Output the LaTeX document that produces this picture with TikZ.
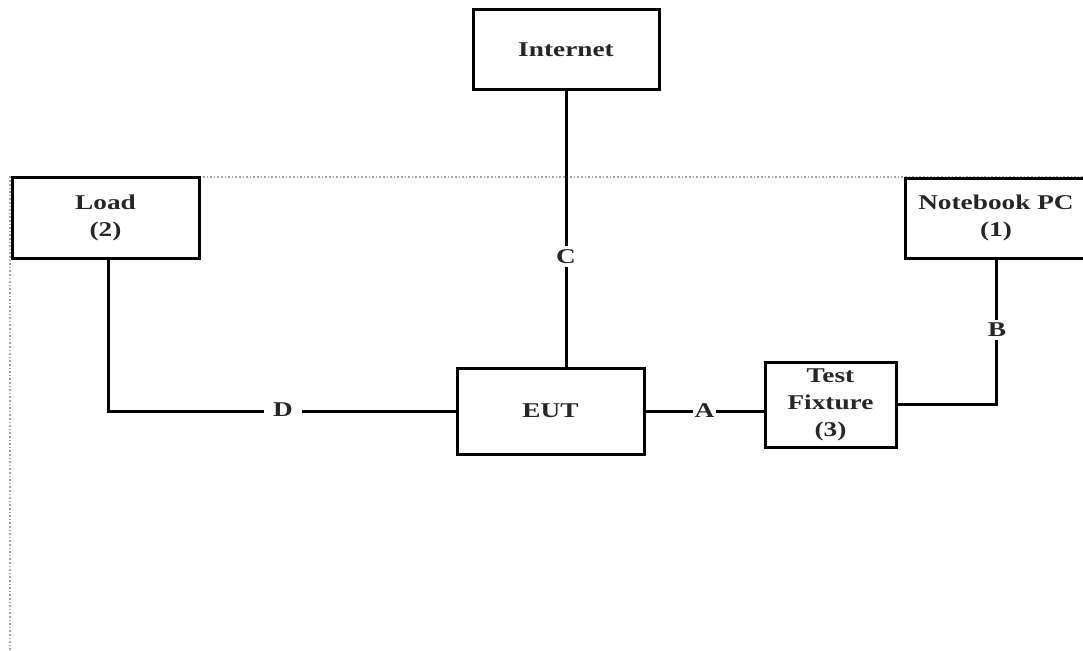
\documentclass[tikz,border=0pt]{standalone}
\usepackage{fontspec}
\setmainfont{Liberation Serif}
\newfontfamily\boxfont[FakeStretch=1.3]{Liberation Serif}
\begin{document}
\begin{tikzpicture}[x=1pt,y=-1pt,
  box/.style={draw=black,line width=3pt,fill=white,align=center,inner sep=0pt,
    font=\boxfont\bfseries\fontsize{21}{27}\selectfont,text=black!85},
  wire/.style={line width=3pt,black},
  lbl/.style={fill=white,inner sep=3pt,font=\boxfont\bfseries\fontsize{21}{27}\selectfont,text=black!85}]
\useasboundingbox (0,0) rectangle (1083,650);
\fill[white] (0,0) rectangle (1083,650);
% dotted frame
\draw[gray!70,line width=1.6pt,dotted] (10,650) -- (10,177) -- (1090,177);
% boxes
\node[box,minimum width=186pt,minimum height=80pt] (internet) at (566,50) {Internet};
\node[box,minimum width=187pt,minimum height=81pt] (load) at (105.5,217.5) {Load\\(2)};
\node[box,minimum width=182pt,minimum height=80pt] (notebook) at (996,218) {Notebook PC\\(1)};
\node[box,minimum width=187pt,minimum height=86pt] (eut) at (550.5,411) {EUT};
\node[box,minimum width=131pt,minimum height=85pt] (tf) at (830.5,404.5) {Test\\Fixture\\(3)};
\coordinate (ltop) at ([xshift=2.5pt]load.south);
% connectors
\draw[wire] (internet.south) -- (internet.south |- eut.north)
  node[lbl,pos=0.6] (c) {C};
\draw[wire] (ltop) |- (eut.west);
\node[lbl,inner xsep=9pt] (d) at (283,410) {D};
\draw[wire] (eut.east) -- (eut.east -| tf.west) node[lbl,midway,inner xsep=2pt] (a) {A};
\draw[wire] (tf.east) -| (notebook.south);
\node[lbl] (b) at (997,330) {B};
\end{tikzpicture}
\end{document}
